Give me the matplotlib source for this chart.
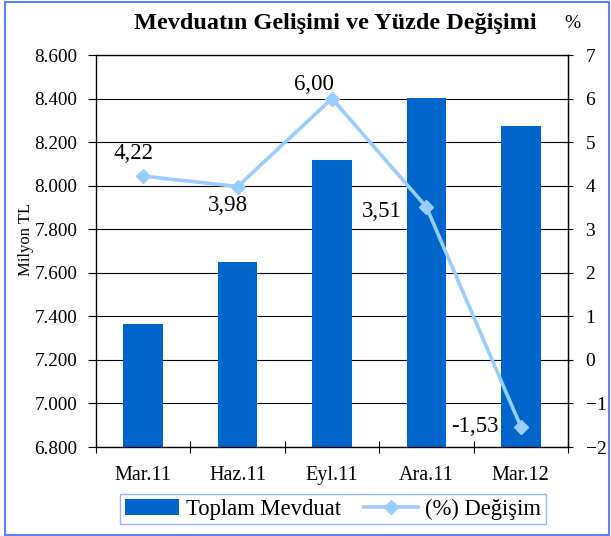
import matplotlib.pyplot as plt
from matplotlib.patches import Rectangle

plt.rcParams['font.family'] = ['Liberation Serif', 'DejaVu Serif']

# data
categories = ["Mar.11", "Haz.11", "Eyl.11", "Ara.11", "Mar.12"]
deposits = [7365, 7650, 8118, 8403, 8274]  # milyon TL
pct_change = [4.22, 3.98, 6.00, 3.51, -1.53]
pct_labels = ["4,22", "3,98", "6,00", "3,51", "-1,53"]
left_ticks = [6800, 7000, 7200, 7400, 7600, 7800, 8000, 8200, 8400, 8600]
left_ticklabels = ["6.800", "7.000", "7.200", "7.400", "7.600", "7.800",
                   "8.000", "8.200", "8.400", "8.600"]
right_ticks = [-2, -1, 0, 1, 2, 3, 4, 5, 6, 7]

bar_color = "#0066CC"
line_color = "#99CCFF"

fig = plt.figure(figsize=(6.11, 5.36), dpi=100)
ax = fig.add_axes([96 / 611, 1 - 447 / 536, 472 / 611, 392 / 536])

x = list(range(len(categories)))
bars = ax.bar(x, deposits, width=0.42, color=bar_color, zorder=2,
              label="Toplam Mevduat")
ax.set_ylim(6800, 8600)
ax.set_xlim(-0.5, len(categories) - 0.5)
ax.set_yticks(left_ticks)
ax.set_yticklabels(left_ticklabels)
ax.yaxis.grid(True, color="black", linewidth=0.8, zorder=0)
ax.set_axisbelow(True)
ax.tick_params(axis="y", direction="out", length=5.5, labelsize=13.8, pad=8)

# category ticks at boundaries, labels in the middle
ax.set_xticks([i - 0.5 for i in range(len(categories) + 1)])
ax.set_xticklabels([])
ax.set_xticks(x, minor=True)
ax.set_xticklabels(categories, minor=True)
ax.tick_params(axis="x", which="major", direction="inout", length=9)
ax.tick_params(axis="x", which="minor", length=0, labelsize=14.5, pad=14)
ax.set_ylabel("Milyon TL", fontsize=12, labelpad=6)
ax.yaxis.set_label_coords(-0.132, 0.53)

for s in ax.spines.values():
    s.set_color("black")
    s.set_linewidth(0.9)

ax2 = ax.twinx()
line, = ax2.plot(x, pct_change, color=line_color, linewidth=2.6,
                 marker="D", markersize=7, zorder=3, label="(%) Değişim")
ax2.set_ylim(-2, 7)
ax2.set_yticks(right_ticks)
ax2.tick_params(axis="y", direction="inout", length=7.2, labelsize=14, pad=9)
ax2.spines["right"].set_linewidth(0.9)

# data labels (pixel offsets)
offsets = [(-10, 23), (-10, -19), (-18, 14), (-45, -4), (-46, 0)]
for xi, yi, lab, off in zip(x, pct_change, pct_labels, offsets):
    ax2.annotate(lab, (xi, yi), xytext=off, textcoords="offset pixels",
                 ha="center", va="center", fontsize=16.5)

fig.text(335 / 611, 1 - 23 / 536, "Mevduatın Gelişimi ve Yüzde Değişimi",
         ha="center", va="center", fontsize=17.5, fontweight="bold")
fig.text(572 / 611, 1 - 23 / 536, "%", ha="center", va="center", fontsize=14)

leg = fig.legend(handles=[bars, line], loc="center",
                 bbox_to_anchor=(333 / 611, 1 - 509 / 536), ncol=2,
                 fontsize=16.3, frameon=True, fancybox=False,
                 handlelength=2.4, handletextpad=0.3, columnspacing=1.0,
                 borderpad=0.2)
leg.get_frame().set_edgecolor("#7F9FFF")
leg.get_frame().set_linewidth(1.0)

# outer border
fig.patches.append(Rectangle((5 / 611, 1 / 536), 604 / 611, 533 / 536,
                             transform=fig.transFigure, fill=False,
                             edgecolor="#5F7FFF", linewidth=1.5))

fig.savefig("out.png", dpi=100)
